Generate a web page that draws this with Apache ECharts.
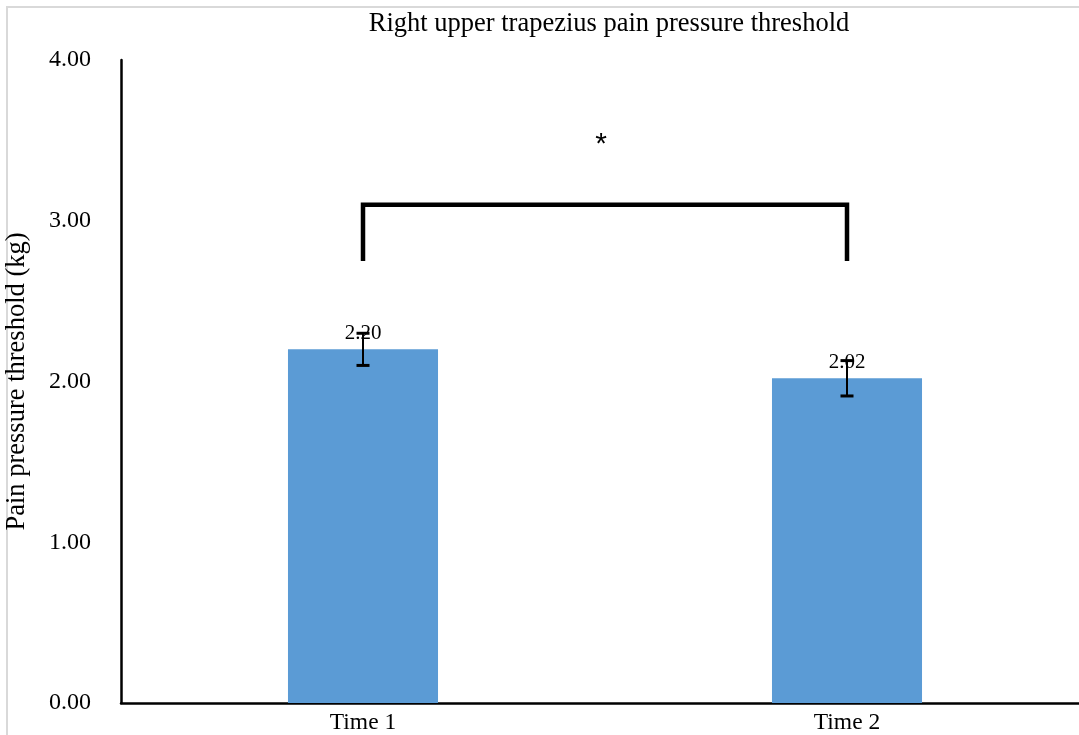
<!DOCTYPE html>
<html>
<head>
<meta charset="utf-8">
<script src="https://cdn.jsdelivr.net/npm/echarts@6/dist/echarts.min.js"></script>
<style>
  html, body { margin: 0; padding: 0; background: #fff; }
  #chart { width: 1079px; height: 735px; }
</style>
</head>
<body>
<div id="chart"></div>
<script>
// Chart data
const categories = ['Time 1', 'Time 2'];
const meanValues = [2.20, 2.02];
const errorValues = [0.10, 0.11];
const yTicks = [0, 1, 2, 3, 4];
// Significance bracket between the two time points
const bracketTop = 3.1;
const bracketLegBottom = 2.75;
const starLevel = 3.47;

const serif = '"Liberation Serif", "Times New Roman", serif';

const chart = echarts.init(document.getElementById('chart'));

chart.setOption({
  animation: false,
  title: {
    text: 'Right upper trapezius pain pressure threshold',
    left: 604,
    textAlign: 'center',
    top: 6,
    textStyle: { fontFamily: serif, fontSize: 26.5, fontWeight: 'normal', color: '#000' }
  },
  graphic: [{
    type: 'rect',
    shape: { x: 7, y: 7, width: 1200, height: 800 },
    style: { fill: 'none', stroke: '#d9d9d9', lineWidth: 2 },
    silent: true
  }],
  grid: { left: 121, right: -10, top: 60, bottom: 32, containLabel: false, outerBoundsMode: 'none' },
  xAxis: {
    type: 'category',
    data: categories,
    axisLine: { lineStyle: { color: '#000', width: 2.5 } },
    axisTick: { show: false },
    axisLabel: { fontFamily: serif, fontSize: 23.5, color: '#000', margin: 8 }
  },
  yAxis: {
    type: 'value',
    min: yTicks[0],
    max: yTicks[yTicks.length - 1],
    interval: 1,
    name: 'Pain pressure threshold (kg)',
    nameLocation: 'middle',
    nameGap: 90,
    nameTextStyle: { fontFamily: serif, fontSize: 26.5, color: '#000' },
    axisLine: { show: true, lineStyle: { color: '#000', width: 2.5 } },
    axisTick: { show: false },
    splitLine: { show: false },
    axisLabel: {
      fontFamily: serif, fontSize: 24, color: '#000', margin: 30,
      formatter: v => v.toFixed(2)
    }
  },
  series: [
    {
      type: 'bar',
      data: meanValues,
      barWidth: '31%',
      itemStyle: { color: '#5B9BD5' },
      label: {
        show: true,
        position: 'top',
        distance: 5,
        fontFamily: serif,
        fontSize: 21,
        color: '#000',
        formatter: p => p.value.toFixed(2)
      },
      z: 2
    },
    {
      // error bars (mean ± SE)
      type: 'custom',
      data: meanValues.map((m, i) => [i, m - errorValues[i], m + errorValues[i]]),
      renderItem: (params, api) => {
        const x = api.value(0);
        const lo = api.coord([x, api.value(1)]);
        const hi = api.coord([x, api.value(2)]);
        const cap = 6.5;
        const style = { stroke: '#000', lineWidth: 2 };
        return {
          type: 'group',
          children: [
            { type: 'line', shape: { x1: hi[0], y1: hi[1], x2: lo[0], y2: lo[1] }, style },
            { type: 'line', shape: { x1: hi[0] - cap, y1: hi[1], x2: hi[0] + cap, y2: hi[1] }, style: { stroke: '#000', lineWidth: 3 } },
            { type: 'line', shape: { x1: lo[0] - cap, y1: lo[1], x2: lo[0] + cap, y2: lo[1] }, style: { stroke: '#000', lineWidth: 3 } }
          ]
        };
      },
      z: 5
    },
    {
      // significance bracket with asterisk
      type: 'custom',
      data: [[0, 1, bracketLegBottom, bracketTop, starLevel]],
      renderItem: (params, api) => {
        const a = api.value(0), b = api.value(1);
        const p1 = api.coord([a, api.value(2)]);
        const p2 = api.coord([a, api.value(3)]);
        const p3 = api.coord([b, api.value(3)]);
        const p4 = api.coord([b, api.value(2)]);
        const s1 = api.coord([a, api.value(4)]);
        const s2 = api.coord([b, api.value(4)]);
        return {
          type: 'group',
          children: [
            {
              type: 'polyline',
              shape: { points: [p1, p2, p3, p4] },
              style: { stroke: '#000', lineWidth: 4.5, fill: 'none', lineJoin: 'miter' }
            },
            {
              type: 'text',
              style: {
                text: '*', x: (s1[0] + s2[0]) / 2 - 4, y: s1[1],
                align: 'center', verticalAlign: 'middle',
                font: '30px "Liberation Sans", Arial, sans-serif', fill: '#000'
              }
            }
          ]
        };
      },
      z: 5
    }
  ]
});
</script>
</body>
</html>
